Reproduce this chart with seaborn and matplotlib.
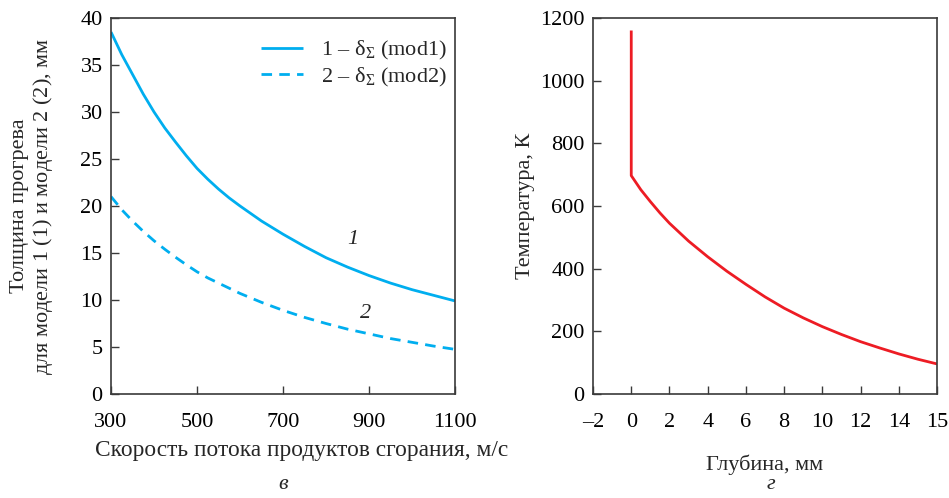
import numpy as np
import pandas as pd
import matplotlib
matplotlib.use("Agg")
import matplotlib.pyplot as plt
import seaborn as sns

# ---- data (left panel) ----
speed = [300, 325, 350, 375, 400, 425, 450, 475, 500, 525, 550, 575, 600, 650, 700, 750, 800, 850, 900, 950, 1000, 1050, 1100]
delta_mod1 = [38.5, 36.1, 34.0, 31.9, 30.0, 28.3, 26.8, 25.35, 24.0, 22.85, 21.8, 20.85, 20.0, 18.4, 17.0, 15.7, 14.5, 13.5, 12.6, 11.8, 11.1, 10.5, 9.9]
delta_mod2 = [21.0, 19.6, 18.4, 17.3, 16.3, 15.4, 14.55, 13.75, 13.0, 12.35, 11.8, 11.25, 10.7, 9.75, 8.9, 8.15, 7.5, 6.9, 6.4, 5.9, 5.5, 5.1, 4.75]

# ---- data (right panel) ----
depth = [0, 0, 0.5, 1, 1.5, 2, 3, 4, 5, 6, 7, 8, 9, 10, 11, 12, 13, 14, 15, 16]
temperature = [1160, 697, 652, 614, 578, 545, 488, 438, 392, 350, 310, 274, 243, 215, 190, 167, 147, 128, 111, 96]

left_xticks = [300, 500, 700, 900, 1100]
left_yticks = [0, 5, 10, 15, 20, 25, 30, 35, 40]
right_xticks = [-2, 0, 2, 4, 6, 8, 10, 12, 14, 16]
right_xticklabels = ["\u20132", "0", "2", "4", "6", "8", "10", "12", "14", "15"]
right_yticks = [0, 200, 400, 600, 800, 1000, 1200]

sns.set_style("ticks")
plt.rcParams["font.family"] = ["Liberation Serif", "DejaVu Serif"]
plt.rcParams["mathtext.fontset"] = "custom"
plt.rcParams["mathtext.rm"] = "Liberation Serif"
plt.rcParams["mathtext.it"] = "Liberation Serif:italic"
plt.rcParams["mathtext.bf"] = "Liberation Serif:bold"
plt.rcParams["lines.solid_capstyle"] = "butt"

FS = 16
BLUE = "#00AEEF"
RED = "#ED1C24"
SPINE = "#3a3a3a"

fig = plt.figure(figsize=(9.49, 4.98), dpi=100)
ax1 = fig.add_axes([0.117, 0.2088, 0.3625, 0.7551])
ax2 = fig.add_axes([0.6249, 0.2088, 0.3625, 0.7551])

df_l = pd.DataFrame({"speed": speed, "m1": delta_mod1, "m2": delta_mod2})
sns.lineplot(data=df_l, x="speed", y="m1", ax=ax1, color=BLUE, lw=2.0,
             label=r"$\mathit{1}$ – $\mathrm{\delta_{\Sigma}}$ (mod1)")
sns.lineplot(data=df_l, x="speed", y="m2", ax=ax1, color=BLUE, lw=2.0,
             label=r"$\mathit{2}$ – $\mathrm{\delta_{\Sigma}}$ (mod2)")
ax1.lines[1].set_linestyle((0, (3.8, 2.6)))

df_r = pd.DataFrame({"depth": depth, "T": temperature})
sns.lineplot(data=df_r, x="depth", y="T", ax=ax2, color=RED, lw=2.0, sort=False,
             estimator=None)

for ax in (ax1, ax2):
    for s in ax.spines.values():
        s.set_visible(True)
        s.set_color(SPINE)
        s.set_linewidth(1.2)
    ax.tick_params(direction="in", length=6, width=1.0, color=SPINE,
                   labelsize=FS, labelcolor="black", top=False, right=False)
    ax.tick_params(axis="x", pad=14)
    ax.tick_params(axis="y", pad=6)

ax1.set_xlim(300, 1100)
ax1.set_ylim(0, 40)
ax1.set_xticks(left_xticks)
ax1.set_yticks(left_yticks)
ax1.set_xlabel("Скорость потока продуктов сгорания, м/с", fontsize=16.8, labelpad=6)
ax1.xaxis.set_label_coords(0.553, -0.122)
ax1.set_ylabel("Толщина прогрева\nдля модели 1 ($\\mathit{1}$) и модели 2 ($\\mathit{2}$), мм",
               fontsize=FS, labelpad=18, linespacing=1.15)
leg = ax1.legend(loc="upper right", frameon=False, fontsize=FS, handlelength=1.9,
                 handletextpad=0.8, labelspacing=0.15, borderaxespad=0.3,
                 bbox_to_anchor=(1.02, 0.985))
for h in leg.get_lines():
    h.set_linewidth(2.0)
leg.get_lines()[1].set_linestyle((0, (3.8, 2.6)))

ax1.text(862, 16.4, "1", fontsize=FS, style="italic", ha="center", va="center")
ax1.text(892, 8.6, "2", fontsize=FS, style="italic", ha="center", va="center")

ax2.set_xlim(-2, 16)
ax2.set_ylim(0, 1200)
ax2.set_xticks(right_xticks)
ax2.set_xticklabels(right_xticklabels)
ax2.set_yticks(right_yticks)
ax2.set_xlabel("Глубина, мм", fontsize=FS, labelpad=16)
ax2.set_ylabel("Температура, К", fontsize=FS, labelpad=4)

fig.text(0.298, 0.028, "в", fontsize=FS, style="italic", ha="center", va="center")
fig.text(0.812, 0.028, "г", fontsize=FS, style="italic", ha="center", va="center")

fig.savefig("out.png", dpi=100)
